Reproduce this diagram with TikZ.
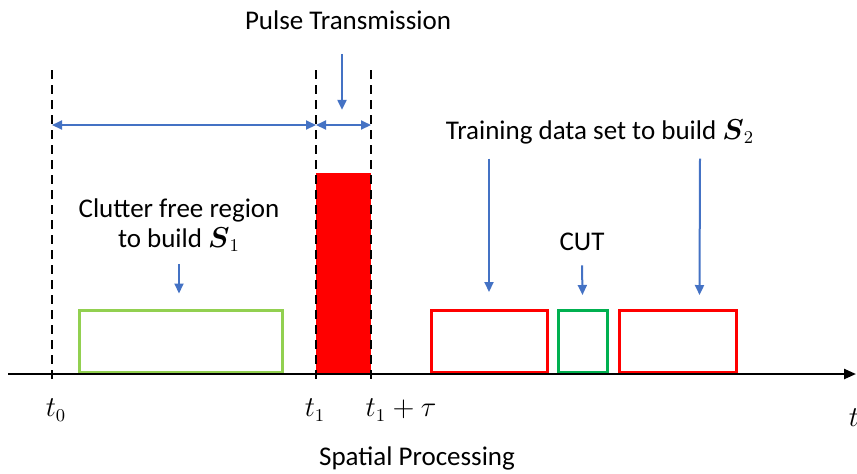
\documentclass[tikz,border=0pt]{standalone}
\usepackage{amsmath}
\usepackage{fontspec}
\setmainfont{Carlito}
\usetikzlibrary{positioning,arrows.meta}
\definecolor{arrowblue}{HTML}{4472C4}
\definecolor{lightgreen}{HTML}{92D050}
\definecolor{cutgreen}{HTML}{00B050}
\tikzset{label text/.style={font=\fontsize{13.5}{15}\selectfont,inner sep=1pt,align=center},
  blue arrow/.style={draw=arrowblue,line width=1pt,-{Triangle[length=5pt,width=4.5pt]}},
  gate/.style={draw=black,line width=1.3pt,dash pattern=on 4.5pt off 3pt},
  win box/.style={rectangle,draw,line width=1.5pt,inner sep=0pt} }

\begin{document}
\begin{tikzpicture}[x=0.5pt,y=-0.5pt]
\useasboundingbox (0,0) rectangle (857,473);

  % time marks
  \coordinate (g0) at (52,70);  \coordinate (b0) at (52,385);
  \coordinate (g1) at (316,70); \coordinate (b1) at (316,385);
  \coordinate (g2) at (371,70); \coordinate (b2) at (371,385);

  % pulse
  \fill[red] (316,173) rectangle (371,374);

  % windows
  \node[win box,draw=lightgreen,minimum width=101.5pt,minimum height=31pt] (free) at (180.5,341) {};
  \node[win box,draw=red,minimum width=58pt,minimum height=31pt] (tr1) at (489,341.5) {};
  \node[win box,draw=cutgreen,minimum width=24.5pt,minimum height=31pt] (cut) at (582.5,341.5) {};
  \node[win box,draw=red,minimum width=58.5pt,minimum height=31pt] (tr2) at (677.5,341.5) {};

  \draw[gate] (g0) -- (b0);
  \draw[gate] (g1) -- (b1);
  \draw[gate] (g2) -- (b2);

  % time axis
  \coordinate (o) at (8,374);
  \coordinate (e) at (856,374);
  \draw[line width=1.2pt,-{Triangle[length=6pt,width=5pt]}] (o) -- (e);

  % labels
  \node[label text] (pulse) at (348,20) {Pulse Transmission};
  \node[label text] (clutter) at (179,225) {Clutter free region\\to build $\boldsymbol{S}_1$};
  \node[label text] (train) at (600,132) {Training data set to build $\boldsymbol{S}_2$};
  \node[label text] (cutl) at (582,242) {CUT};

  \node[label text] (t0) at (56,410) {$t_0$};
  \node[label text] (t1) at (315,410) {$t_1$};
  \node[label text] (t1tau) at (401,410) {$t_1+\tau$};
  \node[label text] (tt) at (854,418) {$t$};
  \node[label text] (spatial) at (417,458) {Spatial Processing};

  % arrows
  \draw[blue arrow,{Triangle[length=5pt,width=4.5pt]}-{Triangle[length=5pt,width=4.5pt]}] (52,125) -- (316,125);
  \draw[blue arrow,{Triangle[length=5pt,width=4.5pt]}-{Triangle[length=5pt,width=4.5pt]}] (316,125) -- (371,125);
  \draw[blue arrow] ([xshift=-3pt,yshift=-11pt]pulse.south) -- ++(0,56);
  \draw[blue arrow] ([yshift=-5pt]clutter.south) -- ([yshift=7.5pt]free.north -| clutter.south);
  \draw[blue arrow] ([xshift=-55.5pt,yshift=-6pt]train.south) -- ([yshift=8.5pt]tr1.north);
  \draw[blue arrow] ([xshift=50pt,yshift=-6pt]train.south) -- ([xshift=11pt,yshift=7pt]tr2.north);
  \draw[blue arrow] ([yshift=-6pt]cutl.south) -- ([yshift=7pt]cut.north);
\end{tikzpicture}
\end{document}
